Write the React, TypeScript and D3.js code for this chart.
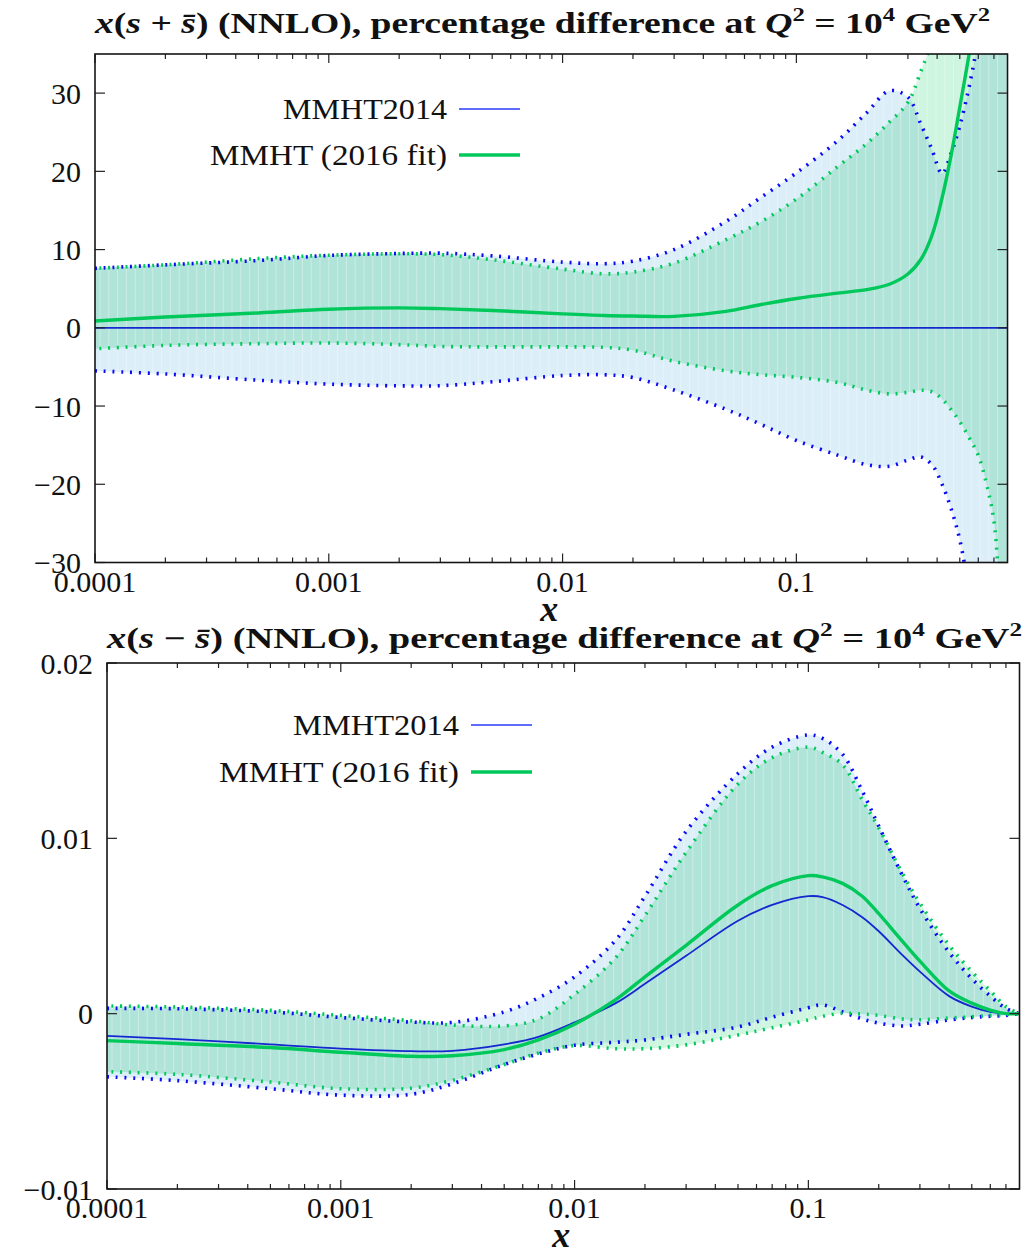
import React from "react";
import * as d3 from "d3";

const W = 1035;
const H = 1255;

// ---------- x(s + sbar): percentage difference relative to MMHT2014 ----------
const sumX = [1e-4, 2e-4, 5e-4, 1e-3, 2e-3, 3e-3, 5e-3, 0.01, 0.015, 0.02, 0.03, 0.05, 0.07, 0.1, 0.15, 0.2, 0.25, 0.3, 0.34, 0.38, 0.42, 0.46, 0.5, 0.55, 0.6, 0.65, 0.7, 0.75, 0.8];
const sumMmht14 = [0, 0, 0, 0, 0, 0, 0, 0, 0, 0, 0, 0, 0, 0, 0, 0, 0, 0, 0, 0, 0, 0, 0, 0, 0, 0, 0, 0, 0];
const sumMmht14Hi = [7.6, 8.05, 8.6, 9.25, 9.5, 9.54, 9.2, 8.4, 8.19, 8.52, 10.0, 13.6, 16.6, 19.8, 23.9, 27.5, 30.3, 29.5, 26.1, 22.8, 19.7, 22.4, 25.8, 31.0, 37, 44, 52, 60, 68];
const sumMmht14Lo = [-5.51, -5.9, -6.7, -7.2, -7.42, -7.4, -6.9, -6.1, -6.0, -6.36, -7.96, -10.42, -12.3, -14.4, -16.27, -17.5, -17.7, -16.9, -16.5, -17.5, -20.0, -23.2, -27.1, -34, -42, -50, -58, -66, -74];
const sumMmht16 = [0.87, 1.38, 1.9, 2.38, 2.55, 2.45, 2.22, 1.78, 1.57, 1.5, 1.46, 2.1, 2.95, 3.75, 4.44, 4.88, 5.57, 6.88, 8.7, 11.8, 16.6, 22.2, 28.2, 35.2, 42, 49, 56, 63, 70];
const sumMmht16Hi = [7.6, 8.05, 8.85, 9.28, 9.46, 9.35, 8.7, 7.5, 6.9, 7.12, 8.27, 11.27, 13.5, 16.45, 20.6, 23.55, 26.3, 28.8, 32.7, 36.6, 41, 45, 49, 54, 59, 64, 69, 74, 79];
const sumMmht16Lo = [-2.68, -2.25, -2.02, -1.94, -2.15, -2.38, -2.44, -2.44, -2.5, -2.87, -4.29, -5.5, -5.98, -6.33, -6.98, -7.98, -8.45, -8.25, -7.98, -8.17, -9.1, -10.5, -12.0, -14.1, -16.3, -19.9, -24.7, -37, -48];

// ---------- x(s - sbar): absolute values ----------
const diffX = [1e-4, 2e-4, 5e-4, 1e-3, 2e-3, 3e-3, 5e-3, 7e-3, 0.01, 0.015, 0.02, 0.03, 0.05, 0.07, 0.1, 0.115, 0.14, 0.17, 0.2, 0.25, 0.3, 0.4, 0.5, 0.6, 0.7, 0.8];
const diffMmht14 = [-0.00127, -0.00145, -0.00175, -0.00199, -0.00214, -0.00212, -0.00175, -0.00132, -0.0005, 0.0006, 0.0017, 0.0033, 0.0053, 0.0062, 0.0067, 0.00665, 0.0062, 0.0055, 0.0047, 0.0034, 0.0024, 0.001, 0.0004, 0.0001, 0, 0];
const diffMmht14Hi = [0.0003, 0.00028, 0.0001, -0.00022, -0.00048, -0.0005, 0.0001, 0.0009, 0.0021, 0.0042, 0.0067, 0.0104, 0.0137, 0.0152, 0.0159, 0.0157, 0.0148, 0.0127, 0.0107, 0.008, 0.006, 0.0035, 0.002, 0.001, 0.0003, 0];
const diffMmht14Lo = [-0.0036, -0.00382, -0.00428, -0.00465, -0.0046, -0.004, -0.0029, -0.0023, -0.0018, -0.00163, -0.0015, -0.00118, -0.00076, -0.0002, 0.00034, 0.0005, 0.0001, -0.0003, -0.00054, -0.0007, -0.0006, -0.00036, -0.00022, -0.00015, -0.0001, 0];
const diffMmht16 = [-0.00154, -0.0017, -0.00193, -0.0022, -0.00243, -0.0024, -0.00205, -0.0015, -0.0006, 0.0008, 0.0021, 0.0039, 0.0062, 0.0073, 0.00787, 0.0078, 0.00743, 0.0067, 0.0057, 0.0042, 0.003, 0.0013, 0.0006, 0.0002, 0, 0];
const diffMmht16Hi = [0.00044, 0.00038, 0.00019, -0.0001, -0.0004, -0.00065, -0.0007, -0.0003, 0.0011, 0.0032, 0.0056, 0.0092, 0.0131, 0.0146, 0.0152, 0.0149, 0.0142, 0.0122, 0.0106, 0.0081, 0.0063, 0.0039, 0.0024, 0.0013, 0.0004, 0];
const diffMmht16Lo = [-0.00331, -0.00346, -0.0039, -0.00428, -0.00425, -0.0038, -0.0029, -0.00225, -0.00182, -0.002, -0.002, -0.00178, -0.00122, -0.0008, -0.00036, -0.00015, 0.00002, -0.00002, -0.0001, -0.0003, -0.00035, -0.00025, -0.00018, -0.0001, -0.00005, 0];

// ---------- axes ----------
const xDomain: [number, number] = [1e-4, 0.8];
const xMajorTicks = [1e-4, 1e-3, 1e-2, 1e-1];
const xTickLabels = ["0.0001", "0.001", "0.01", "0.1"];
const sumYTicks = [-30, -20, -10, 0, 10, 20, 30];
const sumYLabels = ["\u221230", "\u221220", "\u221210", "0", "10", "20", "30"];
const diffYTicks = [-0.01, 0, 0.01, 0.02];
const diffYLabels = ["\u22120.01", "0", "0.01", "0.02"];
const legendNames = ["MMHT2014", "MMHT (2016 fit)"];

const BLUE_LINE = "#1428d0";
const BLUE_DOT = "#0a0af5";
const BLUE_FILL = "#dceef8";
const GREEN = "#00c85a";
const GREEN_FILL = "#cdf5df";
const FONT = "'Liberation Serif', 'Times New Roman', serif";

type Box = { left: number; right: number; top: number; bottom: number };

type PanelProps = {
  id: string;
  xs: number[];
  c14: number[];
  hi14: number[];
  lo14: number[];
  c16: number[];
  hi16: number[];
  lo16: number[];
  box: Box;
  yDomain: [number, number];
  yTicks: number[];
  yLabels: string[];
  op: string;
  titleLen: number;
  titleY: number;
  legendY: [number, number];
  legendLen: [number, number];
};

function Panel(p: PanelProps) {
  const { box } = p;
  const x = d3.scaleLog().domain(xDomain).range([box.left, box.right]);
  const y = d3.scaleLinear().domain(p.yDomain).range([box.bottom, box.top]);
  const idx = d3.range(p.xs.length);
  const curve = d3.curveCatmullRom.alpha(0.5);

  const band = (lo: number[], hi: number[]) =>
    d3
      .area<number>()
      .x((i) => x(p.xs[i]))
      .y0((i) => y(lo[i]))
      .y1((i) => y(hi[i]))
      .curve(curve)(idx) || "";
  const line = (v: number[]) =>
    d3
      .line<number>()
      .x((i) => x(p.xs[i]))
      .y((i) => y(v[i]))
      .curve(curve)(idx) || "";

  const band14 = band(p.lo14, p.hi14);
  const band16 = band(p.lo16, p.hi16);

  const minor: number[] = [];
  for (let e = -4; e < 0; e++) {
    for (let m = 2; m <= 9; m++) {
      const v = m * Math.pow(10, e);
      if (v < 0.8 - 1e-9) minor.push(v);
    }
  }
  const stripes = d3.range(box.left + 5, box.right, 8.8);
  const cx = (box.left + box.right) / 2;
  const dotted = { strokeWidth: 3.6, strokeDasharray: "2 6.8", fill: "none" };

  return (
    <g>
      <defs>
        <clipPath id={`${p.id}-plot`}>
          <rect x={box.left} y={box.top} width={box.right - box.left} height={box.bottom - box.top} />
        </clipPath>
        <clipPath id={`${p.id}-bands`}>
          <path d={band14} />
          <path d={band16} />
        </clipPath>
      </defs>

      {/* title */}
      <text
        x={box.left}
        y={p.titleY}
        fontSize={29}
        fontWeight="bold"
        textLength={p.titleLen}
        lengthAdjust="spacingAndGlyphs"
        fill="#111"
      >
        <tspan fontStyle="italic">x</tspan>
        <tspan>(</tspan>
        <tspan fontStyle="italic">s</tspan>
        <tspan>{` ${p.op} `}</tspan>
        <tspan fontStyle="italic">{"s\u0304"}</tspan>
        <tspan>{") (NNLO), percentage difference at "}</tspan>
        <tspan fontStyle="italic">Q</tspan>
        <tspan dy={-12} fontSize={19}>2</tspan>
        <tspan dy={12}>{" = 10"}</tspan>
        <tspan dy={-12} fontSize={19}>4</tspan>
        <tspan dy={12}>{" GeV"}</tspan>
        <tspan dy={-12} fontSize={19}>2</tspan>
      </text>

      {/* uncertainty bands */}
      <g clipPath={`url(#${p.id}-plot)`}>
        <path d={band14} fill={BLUE_FILL} />
        <path d={band16} fill={GREEN_FILL} style={{ mixBlendMode: "multiply" }} />
        <g clipPath={`url(#${p.id}-bands)`}>
          {stripes.map((sx, i) => (
            <line key={i} x1={sx} x2={sx} y1={box.top} y2={box.bottom} stroke="#ffffff" strokeOpacity={0.35} strokeWidth={1} />
          ))}
        </g>
        <path d={line(p.hi14)} stroke={BLUE_DOT} {...dotted} />
        <path d={line(p.lo14)} stroke={BLUE_DOT} {...dotted} />
        <path d={line(p.hi16)} stroke={GREEN} {...dotted} strokeDashoffset={4.4} />
        <path d={line(p.lo16)} stroke={GREEN} {...dotted} strokeDashoffset={4.4} />
        <path d={line(p.c14)} stroke={BLUE_LINE} strokeWidth={1.8} fill="none" />
        <path d={line(p.c16)} stroke={GREEN} strokeWidth={3.4} fill="none" />
      </g>

      {/* ticks */}
      <g stroke="#222" strokeWidth={1.2}>
        {xMajorTicks.map((t) => (
          <g key={`M${t}`}>
            <line x1={x(t)} x2={x(t)} y1={box.bottom} y2={box.bottom - 9} />
            <line x1={x(t)} x2={x(t)} y1={box.top} y2={box.top + 9} />
          </g>
        ))}
        {minor.map((t) => (
          <g key={`m${t}`}>
            <line x1={x(t)} x2={x(t)} y1={box.bottom} y2={box.bottom - 5} />
            <line x1={x(t)} x2={x(t)} y1={box.top} y2={box.top + 5} />
          </g>
        ))}
        {p.yTicks.map((t) => (
          <g key={`y${t}`}>
            <line x1={box.left} x2={box.left + 10} y1={y(t)} y2={y(t)} />
            <line x1={box.right} x2={box.right - 10} y1={y(t)} y2={y(t)} />
          </g>
        ))}
      </g>

      {/* frame */}
      <rect
        x={box.left}
        y={box.top}
        width={box.right - box.left}
        height={box.bottom - box.top}
        fill="none"
        stroke="#151515"
        strokeWidth={1.6}
      />

      {/* tick labels */}
      <g fontSize={30} fill="#111">
        {xMajorTicks.map((t, i) => (
          <text key={`xl${t}`} x={x(t)} y={box.bottom + 29} textAnchor="middle">
            {xTickLabels[i]}
          </text>
        ))}
        {p.yTicks.map((t, i) => (
          <text key={`yl${t}`} x={box.left - 14} y={y(t)} dy="0.35em" textAnchor="end">
            {p.yLabels[i]}
          </text>
        ))}
      </g>

      {/* axis title */}
      <text x={cx - 2} y={box.bottom + 58} fontSize={36} fontWeight="bold" fontStyle="italic" textAnchor="middle" fill="#111">
        x
      </text>

      {/* legend */}
      <g fontSize={30} fill="#111">
        <text x={box.left + 352} y={p.legendY[0]} dy="0.32em" textAnchor="end" textLength={p.legendLen[0]} lengthAdjust="spacingAndGlyphs">
          {legendNames[0]}
        </text>
        <line x1={box.left + 364} x2={box.left + 425} y1={p.legendY[0]} y2={p.legendY[0]} stroke="#2a3cff" strokeWidth={1.6} />
        <text x={box.left + 352} y={p.legendY[1]} dy="0.32em" textAnchor="end" textLength={p.legendLen[1]} lengthAdjust="spacingAndGlyphs">
          {legendNames[1]}
        </text>
        <line x1={box.left + 364} x2={box.left + 425} y1={p.legendY[1]} y2={p.legendY[1]} stroke={GREEN} strokeWidth={3.4} />
      </g>
    </g>
  );
}

export default function App() {
  return (
    <svg
      width={W}
      height={H}
      viewBox={`0 0 ${W} ${H}`}
      fontFamily={FONT}
      style={{ position: "absolute", left: 0, top: 0, background: "#fff", display: "block" }}
    >
      <Panel
        id="sum"
        xs={sumX}
        c14={sumMmht14}
        hi14={sumMmht14Hi}
        lo14={sumMmht14Lo}
        c16={sumMmht16}
        hi16={sumMmht16Hi}
        lo16={sumMmht16Lo}
        box={{ left: 95, right: 1007.5, top: 54, bottom: 562.5 }}
        yDomain={[-30, 35]}
        yTicks={sumYTicks}
        yLabels={sumYLabels}
        op="+"
        titleLen={895}
        titleY={33}
        legendY={[109, 155]}
        legendLen={[164, 237]}
      />
      <Panel
        id="diff"
        xs={diffX}
        c14={diffMmht14}
        hi14={diffMmht14Hi}
        lo14={diffMmht14Lo}
        c16={diffMmht16}
        hi16={diffMmht16Hi}
        lo16={diffMmht16Lo}
        box={{ left: 107, right: 1019.5, top: 663, bottom: 1189 }}
        yDomain={[-0.01, 0.02]}
        yTicks={diffYTicks}
        yLabels={diffYLabels}
        op={"\u2212"}
        titleLen={915}
        titleY={648}
        legendY={[725, 772]}
        legendLen={[166, 240]}
      />
    </svg>
  );
}
